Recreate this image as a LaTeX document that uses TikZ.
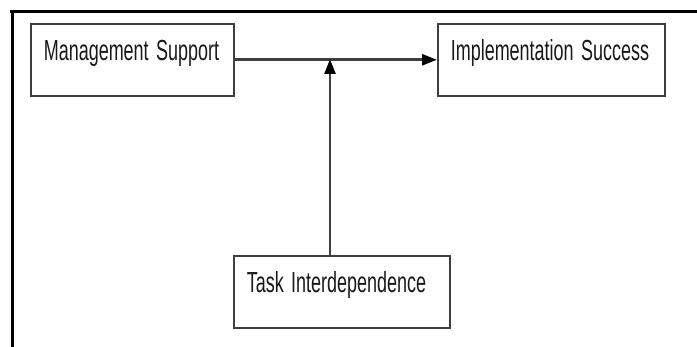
\documentclass[tikz,border=0pt]{standalone}
\usepackage{fontspec}
\setmainfont{Liberation Sans}[FakeStretch=0.62, WordSpace=1.5]
\usetikzlibrary{arrows.meta}
\tikzset{
	factor/.style={draw=black!75, line width=1.6pt, inner xsep=13pt, inner ysep=0pt,
		text height=37pt, text depth=35pt, align=flush left, anchor=north west,
		font=\fontsize{29}{32}\selectfont, text=black!90},
	link/.style={draw=black!75, line width=2.6pt},
	tip/.style={-{Triangle[length=15pt,width=11pt,color=black]}}
}

\begin{document}
\begin{tikzpicture}[x=1pt, y=-1pt]
			%%%%% START %%%%%
			\useasboundingbox (0, 0) rectangle (697, 347);
			
			\draw[line width=3.5pt] (10, 11.5) -- (697, 11.5);
			\draw[line width=3pt] (12.5, 10) -- (12.5, 347);
			
			\node[factor, text width=177pt] (support) at (30, 23) {Management Support};
			\node[factor, text width=201pt] (success) at (437, 23) {Implementation Success};
			\node[factor, text width=190pt] (task) at (233, 255) {Task Interdependence};
			
			\coordinate (meet) at (330, 59);
			\draw[link, tip] (support) -- (success);
			\draw[link, tip] (task.north -| meet) -- (meet);
			
			%%%%% END %%%%%
		\end{tikzpicture}
\end{document}
